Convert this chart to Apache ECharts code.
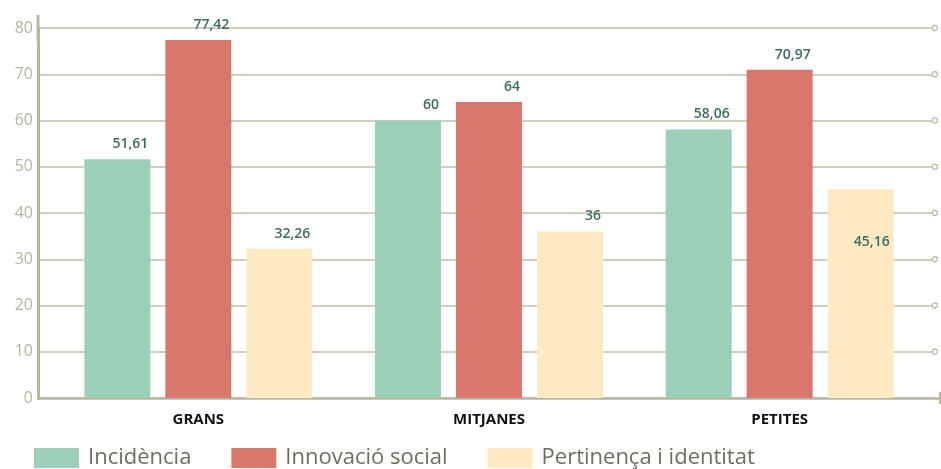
<!DOCTYPE html>
<html>
<head>
<meta charset="utf-8">
<script src="https://cdn.jsdelivr.net/npm/echarts@6/dist/echarts.min.js"></script>
<style>html,body{margin:0;padding:0;background:#fff}#c{width:941px;height:469px}</style>
</head>
<body>
<div id="c"></div>
<script>
const categories = ['GRANS', 'MITJANES', 'PETITES'];
const seriesNames = ['Incidència', 'Innovació social', 'Pertinença i identitat'];
const incidencia = [51.61, 60, 58.06];
const innovacio = [77.42, 64, 70.97];
const pertinenca = [32.26, 36, 45.16];
const yTicks = { min: 0, max: 80, interval: 10 };

const axisCol = '#b8b5a2';
const gridCol = '#c2bfad';
const labelCol = '#3d6b63';
const colors = ['#9bcfb7', '#d9776c', '#fdeac2'];

const fmt = v => String(v).replace('.', ',');
const topLabel = {
  show: true,
  position: ['100%', 0],
  align: 'right',
  verticalAlign: 'bottom',
  offset: [-2, -8],
  color: labelCol,
  fontFamily: 'Open Sans',
  fontWeight: 600,
  fontSize: 14,
  formatter: p => fmt(p.value)
};

function mk(name, data, color, overrides) {
  return {
    name, type: 'bar', xAxisIndex: 2, yAxisIndex: 3,
    barWidth: 66, barGap: '22.7%',
    itemStyle: { color },
    label: topLabel,
    data: data.map((v, i) => overrides && overrides[i] ? { value: v, label: overrides[i] } : v)
  };
}

const chart = echarts.init(document.getElementById('c'));
chart.setOption({
  animation: false,
  grid: [
    { left: 38, right: 6, top: 28, bottom: 71 },
    { left: 38, right: 1, top: 28, bottom: 71 },
    { left: 53, right: 16, top: 28, bottom: 71 }
  ],
  legend: {
    data: seriesNames,
    left: 29, top: 442,
    itemWidth: 45, itemHeight: 20, itemGap: 40,
    icon: 'rect',
    textStyle: { fontFamily: 'Open Sans', fontSize: 22, color: '#6f6e60', padding: [0, 0, 0, 4] }
  },
  xAxis: [
    { gridIndex: 0, type: 'category', data: categories, show: false },
    { gridIndex: 1, type: 'category', data: categories,
      axisLine: { show: true, lineStyle: { color: axisCol, width: 2.5 }, symbol: ['none', 'rect'], symbolSize: [12, 2] },
      axisTick: { show: false }, axisLabel: { show: false } },
    { gridIndex: 2, type: 'category', data: categories,
      axisLine: { show: false }, axisTick: { show: false },
      axisLabel: { color: '#111', fontFamily: 'Open Sans', fontWeight: 700, fontSize: 15, margin: 14 } }
  ],
  yAxis: [
    { gridIndex: 0, type: 'value', min: yTicks.min, max: yTicks.max, interval: yTicks.interval,
      axisLine: { show: true, lineStyle: { color: axisCol, width: 3 }, symbol: ['none', 'rect'], symbolSize: [3, 26] },
      axisTick: { show: false },
      axisLabel: { color: '#b7b4a1', fontFamily: 'Open Sans', fontSize: 16, margin: 5 },
      splitLine: { show: true, lineStyle: { color: gridCol, width: 1.5 } } },
    { gridIndex: 0, type: 'value', position: 'right', min: yTicks.min, max: yTicks.max, interval: yTicks.interval,
      axisLine: { show: false }, axisTick: { show: false }, splitLine: { show: false },
      axisLabel: { margin: 0, formatter: v => v === 0 ? '' : '{c|}',
        rich: { c: { width: 4, height: 4, borderColor: axisCol, borderWidth: 1.2, borderRadius: 3, backgroundColor: '#fff' } } } },
    { gridIndex: 1, type: 'value', min: yTicks.min, max: yTicks.max, show: false },
    { gridIndex: 2, type: 'value', min: yTicks.min, max: yTicks.max, show: false }
  ],
  series: [
    mk(seriesNames[0], incidencia, colors[0]),
    mk(seriesNames[1], innovacio, colors[1]),
    mk(seriesNames[2], pertinenca, colors[2], [null, null, Object.assign({}, topLabel, { offset: [-4, 60] })])
  ]
});
</script>
</body>
</html>
